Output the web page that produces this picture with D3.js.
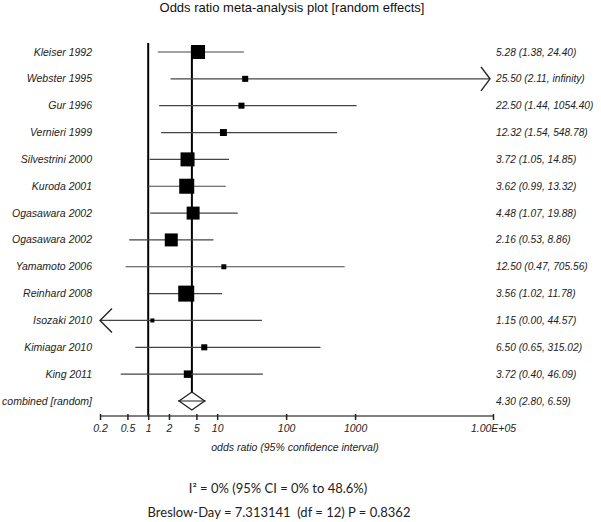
<!DOCTYPE html>
<html>
<head>
<meta charset="utf-8">
<script src="https://cdn.jsdelivr.net/npm/d3@7"></script>
<style>
  body { margin: 0; background: #fff; }
  text { font-family: "Liberation Sans", Arial, sans-serif; }
</style>
</head>
<body>
<div class="chart"></div>
<script>
// データ
const studies = ["Kleiser 1992", "Webster 1995", "Gur 1996", "Vernieri 1999", "Silvestrini 2000",
  "Kuroda 2001", "Ogasawara 2002", "Ogasawara 2002", "Yamamoto 2006", "Reinhard 2008",
  "Isozaki 2010", "Kimiagar 2010", "King 2011"];
const oddsRatio = [5.28, 25.50, 22.50, 12.32, 3.72, 3.62, 4.48, 2.16, 12.50, 3.56, 1.15, 6.50, 3.72];
const lower = [1.38, 2.11, 1.44, 1.54, 1.05, 0.99, 1.07, 0.53, 0.47, 1.02, 0.00, 0.65, 0.40];
const upper = [24.40, Infinity, 1054.40, 548.78, 14.85, 13.32, 19.88, 8.86, 705.56, 11.78, 44.57, 315.02, 46.09];
const weights = [13.4, 2.5, 2.5, 3.3, 13.4, 15.4, 11.5, 11.5, 1.7, 17.5, 1.1, 2.5, 3.8]; // % (目測)
const combined = { label: "combined [random]", or: 4.30, lo: 2.80, hi: 6.59 };
const tickValues = [0.2, 0.5, 1, 2, 5, 10, 100, 1000, 1e5];
const tickLabels = ["0.2", "0.5", "1", "2", "5", "10", "100", "1000", "1.00E+05"];

const W = 601, H = 522;
const fmt = d3.format(".2f");
const fmtCI = v => v === Infinity ? "infinity" : fmt(v);

const svg = d3.select(".chart").append("svg")
  .attr("width", W).attr("height", H);
svg.append("rect").attr("width", W).attr("height", H).attr("fill", "#fff");

// スケール
const x = d3.scaleLog().domain([0.2, 1e5]).range([100, 493]);
const rows = d3.range(studies.length + 1);
const y = d3.scalePoint().domain(rows).range([52, 401]);
const box = d3.scaleSqrt().domain([0, d3.max(weights)]).range([0, 16]);
const axisY = 416;

const data = studies.map((s, i) => ({
  i, name: s, or: oddsRatio[i], lo: lower[i], hi: upper[i], w: weights[i]
}));

// タイトル
svg.append("text")
  .attr("x", 292).attr("y", 12)
  .attr("text-anchor", "middle")
  .style("font-size", "13px")
  .attr("fill", "#111")
  .text("Odds ratio meta-analysis plot [random effects]");

// 縦線 (OR=1)
svg.append("line")
  .attr("x1", x(1)).attr("x2", x(1))
  .attr("y1", 43).attr("y2", axisY)
  .attr("stroke", "#000").attr("stroke-width", 2);

// 縦線 (combined)
svg.append("line")
  .attr("x1", x(combined.or)).attr("x2", x(combined.or))
  .attr("y1", y(0) - 6).attr("y2", y(studies.length) - 9)
  .attr("stroke", "#000").attr("stroke-width", 2);

// 信頼区間の線
const minX = x.range()[0], maxX = x.range()[1];
svg.selectAll(".ci")
  .data(data)
  .enter().append("line")
  .attr("class", "ci")
  .attr("x1", d => d.lo > 0 ? x(d.lo) : minX)
  .attr("x2", d => isFinite(d.hi) ? x(d.hi) : maxX - 3)
  .attr("y1", d => y(d.i)).attr("y2", d => y(d.i))
  .attr("stroke", "#444").attr("stroke-width", 1.2);

// 範囲外の矢印
const arrowL = 9, arrowH = 12;
svg.selectAll(".arrow-r")
  .data(data.filter(d => !isFinite(d.hi)))
  .enter().append("path")
  .attr("d", d => {
    const tx = maxX - 3, ty = y(d.i);
    return `M${tx - arrowL},${ty - arrowH}L${tx},${ty}L${tx - arrowL},${ty + arrowH}`;
  })
  .attr("fill", "none").attr("stroke", "#222").attr("stroke-width", 1.4);

svg.selectAll(".arrow-l")
  .data(data.filter(d => d.lo <= 0))
  .enter().append("path")
  .attr("d", d => {
    const tx = minX, ty = y(d.i);
    return `M${tx + arrowL + 3},${ty - arrowH}L${tx},${ty}L${tx + arrowL + 3},${ty + arrowH}`;
  })
  .attr("fill", "none").attr("stroke", "#222").attr("stroke-width", 1.4);

// ボックス
svg.selectAll(".box")
  .data(data)
  .enter().append("rect")
  .attr("class", "box")
  .attr("x", d => x(d.or) - box(d.w) / 2)
  .attr("y", d => y(d.i) - box(d.w) / 2)
  .attr("width", d => box(d.w))
  .attr("height", d => box(d.w))
  .attr("fill", "#000");

// ダイヤモンド
const cy = y(studies.length);
svg.append("line")
  .attr("x1", x(combined.lo) - 1).attr("x2", x(combined.hi) + 1)
  .attr("y1", cy).attr("y2", cy)
  .attr("stroke", "#444").attr("stroke-width", 1.2);
svg.append("path")
  .attr("d", `M${x(combined.lo)},${cy}L${x(combined.or)},${cy - 9}L${x(combined.hi)},${cy}L${x(combined.or)},${cy + 9}Z`)
  .attr("fill", "none").attr("stroke", "#222").attr("stroke-width", 1.3);

// 左ラベル
const labelData = data.map(d => d.name).concat([combined.label]);
svg.selectAll(".row-label")
  .data(labelData)
  .enter().append("text")
  .attr("class", "row-label")
  .attr("x", 92)
  .attr("y", (d, i) => y(i) + 3.5)
  .attr("text-anchor", "end")
  .style("font-size", "10.5px").style("font-style", "italic")
  .attr("fill", "#222")
  .text(d => d);

// 右の数値
const valueData = data.map(d => `${fmt(d.or)} (${fmt(d.lo)}, ${fmtCI(d.hi)})`)
  .concat([`${fmt(combined.or)} (${fmt(combined.lo)}, ${fmt(combined.hi)})`]);
svg.selectAll(".value-label")
  .data(valueData)
  .enter().append("text")
  .attr("class", "value-label")
  .attr("x", 496)
  .attr("y", (d, i) => y(i) + 3.5)
  .style("font-size", "10.2px").style("font-style", "italic")
  .attr("fill", "#222")
  .text(d => d);

// x軸
const xAxis = d3.axisBottom(x)
  .tickValues(tickValues)
  .tickFormat((d, i) => tickLabels[i])
  .tickSize(4)
  .tickPadding(5);
const gx = svg.append("g")
  .attr("transform", `translate(0,${axisY})`)
  .call(xAxis);
gx.select(".domain").attr("stroke", "#555").attr("stroke-width", 1.5).attr("d", `M${minX},0H${maxX}`);
gx.selectAll(".tick line").attr("stroke", "#222").attr("stroke-width", 1.5).attr("y1", -2);
gx.selectAll(".tick text")
  .style("font-size", "10.5px").style("font-style", "italic")
  .style("font-family", "'Liberation Sans', Arial, sans-serif")
  .attr("fill", "#222");

svg.append("text")
  .attr("x", 295).attr("y", 451)
  .attr("text-anchor", "middle")
  .style("font-size", "10.5px").style("font-style", "italic")
  .attr("fill", "#222")
  .text("odds ratio (95% confidence interval)");

// 下部の統計量
svg.append("text")
  .attr("x", 278).attr("y", 493)
  .attr("text-anchor", "middle")
  .style("font-family", "Lato, 'Liberation Sans', sans-serif")
  .style("font-size", "13px")
  .attr("fill", "#222")
  .text("I² = 0% (95% CI = 0% to 48.6%)");

svg.append("text")
  .attr("x", 279).attr("y", 517)
  .attr("text-anchor", "middle")
  .style("font-family", "Lato, 'Liberation Sans', sans-serif")
  .style("font-size", "13px")
  .attr("fill", "#222")
  .text("Breslow-Day = 7.313141\u00a0 (df = 12) P = 0.8362");
</script>
</body>
</html>
